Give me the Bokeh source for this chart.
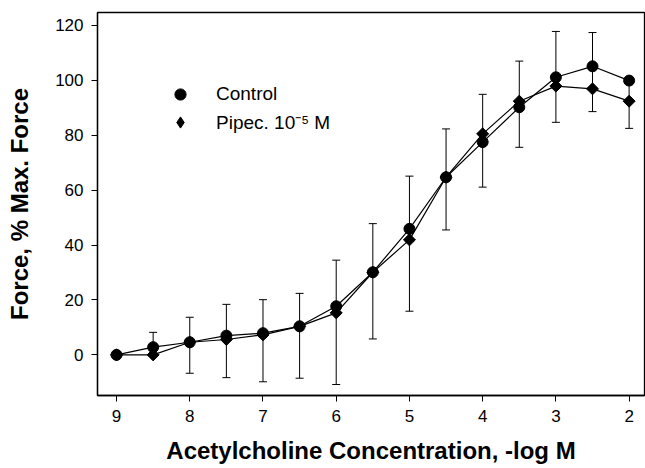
import math
from bokeh.plotting import figure
from bokeh.models import Range1d, FixedTicker, Whisker, TeeHead, ColumnDataSource, Legend, LegendItem
from bokeh.embed import file_html
from bokeh.resources import INLINE

# Data (x: -log M acetylcholine concentration)
conc = [9, 8.5, 8, 7.5, 7, 6.5, 6, 5.5, 5, 4.5, 4, 3.5, 3, 2.5, 2]
control = [0, 2.8, 4.6, 7.0, 7.9, 10.4, 17.7, 30.1, 45.9, 64.7, 77.5, 90.2, 101.1, 105.1, 99.9]
pipec = [0, 0, 4.6, 5.6, 7.3, 10.4, 15.3, 30.1, 41.9, 64.7, 80.5, 92.4, 97.9, 96.9, 92.4]
err_upper = [0, 8.2, 13.7, 18.4, 20.1, 22.4, 34.5, 47.8, 65.1, 82.3, 94.9, 107.0, 117.8, 117.4, 99.9]
err_lower = [0, 0, -6.7, -8.3, -9.8, -8.5, -10.8, 5.8, 15.9, 45.5, 61.1, 75.6, 84.7, 88.6, 82.5]
x_ticks = [2, 3, 4, 5, 6, 7, 8, 9]
y_ticks = [0, 20, 40, 60, 80, 100, 120]

FONT = "Liberation Sans"

p = figure(width=645, height=468, output_backend="svg", toolbar_location=None,
           x_range=Range1d(9.26, 1.79), y_range=Range1d(-14.8, 124.7),
           min_border_left=97, min_border_right=1, min_border_top=12, min_border_bottom=73)
p.grid.visible = False
p.outline_line_color = "black"
p.outline_line_width = 1.3
p.background_fill_color = "white"
p.border_fill_color = "white"

for ax in (p.xaxis[0], p.yaxis[0]):
    ax.axis_line_color = "black"
    ax.axis_line_width = 1.3
    ax.major_tick_line_color = "black"
    ax.major_tick_out = 6
    ax.major_tick_in = 0
    ax.minor_tick_line_color = None
    ax.major_label_text_font = FONT
    ax.major_label_text_font_size = "17px"
    ax.major_label_text_color = "black"
    ax.axis_label_text_font = FONT
    ax.axis_label_text_font_style = "bold"
    ax.axis_label_text_font_size = "24px"
    ax.axis_label_text_color = "black"

p.xaxis.ticker = FixedTicker(ticks=x_ticks)
p.yaxis.ticker = FixedTicker(ticks=y_ticks)
p.xaxis.axis_label = "Acetylcholine Concentration, -log M"
p.yaxis.axis_label = "Force, % Max. Force"
p.xaxis.major_label_standoff = 8
p.yaxis.major_label_standoff = 8
p.xaxis.axis_label_standoff = 12
p.yaxis.axis_label_standoff = 19

src = ColumnDataSource(dict(x=conc, c=control, d=pipec, up=err_upper, lo=err_lower))

w = Whisker(source=src, base="x", upper="up", lower="lo", line_color="black", line_width=1,
            upper_head=TeeHead(size=8, line_color="black", line_width=1),
            lower_head=TeeHead(size=8, line_color="black", line_width=1))
p.add_layout(w)

p.line("x", "c", source=src, line_color="black", line_width=1.2)
p.line("x", "d", source=src, line_color="black", line_width=1.2)
rc = p.scatter("x", "c", source=src, marker="circle", size=11, fill_color="black", line_color="black")
# diamond swatch renderer (used by the legend), covered by the rotated square below
rd_key = p.scatter("x", "d", source=src, marker="diamond", size=10,
                   fill_color="black", line_color="black")
rd = p.scatter("x", "d", source=src, marker="square", size=8.5, angle=math.pi / 4,
               fill_color="black", line_color="black")

legend = Legend(items=[LegendItem(label="Control", renderers=[rc]),
                       LegendItem(label="Pipec. 10⁻⁵ M", renderers=[rd_key])],
                location=(69, 259), background_fill_alpha=0, border_line_color=None,
                padding=0, margin=0, spacing=0, glyph_width=28, glyph_height=28,
                label_height=28, label_standoff=22, label_text_font=FONT,
                label_text_font_size="19px", label_text_color="black")
p.add_layout(legend)

open("out.html", "w").write(file_html(p, INLINE))
